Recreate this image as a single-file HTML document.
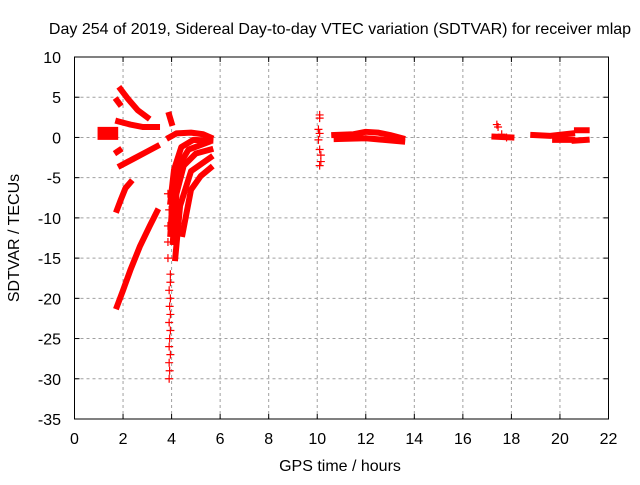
<!DOCTYPE html>
<html><head><meta charset="utf-8"><style>
body{margin:0;background:#fff}
svg text{font-family:"Liberation Sans",sans-serif;font-size:16px;fill:#000}
</style></head><body>
<svg id="c" width="640" height="480" xmlns="http://www.w3.org/2000/svg">
<text x="340" y="34" text-anchor="middle" font-size="16">Day 254 of 2019, Sidereal Day-to-day VTEC variation (SDTVAR) for receiver mlap</text>
<text x="340" y="471" text-anchor="middle">GPS time / hours</text>
<text x="0" y="0" transform="translate(19,238) rotate(-90)" text-anchor="middle">SDTVAR / TECUs</text>
<g id="grid"></g>
<g id="ticks"></g>
<g id="marks"></g>
<rect x="74.5" y="57" width="534" height="362" fill="none" stroke="#000" stroke-width="1"/>
</svg>
<script>
const xTicks=[0,2,4,6,8,10,12,14,16,18,20,22];
const yTicks=[10,5,0,-5,-10,-15,-20,-25,-30,-35];
const segA=[[1.9,6.0],[2.2,4.8],[2.6,3.4],[3.0,2.5]];
const segA2=[[1.75,4.6],[1.85,4.2]];
const segB=[[1.8,2.0],[2.3,1.6],[2.8,1.3],[3.4,1.3]];
const segBlob=[[0.95,0.5],[1.8,0.5]];
const segC=[[1.9,-3.5],[2.4,-2.7],[2.9,-1.9],[3.4,-1.1]];
const segC2=[[1.75,-1.8],[1.85,-1.6]];
const segD=[[1.75,-9.0],[1.9,-7.8],[2.1,-6.3],[2.3,-5.6]];
const segE=[[1.75,-21],[2.0,-19],[2.3,-16.5],[2.7,-13.5],[3.1,-11],[3.4,-9.2]];
const segS=[[3.9,2.8],[4.0,1.8]];
const segF=[[3.9,0],[4.2,0.5],[4.8,0.6],[5.3,0.4],[5.6,0]];
const segG=[[3.95,-12],[4.05,-7],[4.3,-3.5],[4.7,-1.5],[5.5,-0.6]];
const segG2=[[3.95,-8],[4.1,-4],[4.4,-1.2],[4.9,-0.3],[5.6,-0.4]];
const segH=[[4.15,-15],[4.35,-8.5],[4.8,-4.2],[5.6,-2.5]];
const segH2=[[4.05,-13],[4.2,-7],[4.5,-3.5],[5.0,-2.0],[5.6,-1.5]];
const segI=[[4.45,-12],[4.8,-6.5],[5.2,-4.8],[5.6,-3.8]];
const segJ=[[10.7,0.3],[11.5,0.4],[12,0.7],[12.5,0.6],[13,0.3],[13.5,-0.1]];
const segK=[[10.8,-0.2],[12,-0.1],[13.5,-0.5]];
const segL=[[17.3,0.1],[18,0]];
const segM=[[18.9,0.3],[19.6,0.2],[20.5,0.5]];
const segN=[[19.8,-0.3],[20.5,-0.3]];
const segO=[[20.7,0.9],[21.1,0.9]];
const segP=[[20.6,-0.4],[21.1,-0.3]];
const segments=[segA,segA2,segB,segC,segC2,segD,segE,segS,segF,segG,segG2,segH,segH2,segI,segJ,segK,segL,segM,segN,segO,segP];
const blobs=[segBlob];
const scatterPts=[[3.95,-17],[3.95,-18],[3.9,-19],[3.95,-20],[3.92,-21],[3.95,-22],[3.9,-23],[3.95,-24],[3.92,-25],[3.9,-26],[3.95,-27],[3.9,-28],[3.92,-29],[3.9,-30],[3.85,-15],[3.85,-13],[3.85,-11],[3.9,-9],[3.85,-7],
[10.1,2.8],[10.1,2.4],[10.05,1.0],[10.1,0.5],[10.05,-0.3],[10.1,-1.5],[10.15,-2.2],[10.15,-3.0],[10.1,-3.5],[17.4,1.6],[17.45,1.3],[17.6,0.4],[17.8,0.0]];
const xS=h=>74.5+h*(534/22);
const yS=v=>57+(10-v)*(362/45);
const NS='http://www.w3.org/2000/svg';
const g=document.getElementById('grid'),t=document.getElementById('ticks'),m=document.getElementById('marks');
function mk(tag,at,p){const e=document.createElementNS(NS,tag);for(const k in at)e.setAttribute(k,at[k]);p.appendChild(e);return e;}
xTicks.forEach(v=>{const x=xS(v);
 if(v>0&&v<22){const l=mk('line',{x1:x,x2:x,y1:57,y2:419,stroke:'#a0a0a0','stroke-dasharray':'3,3'},g);}
 mk('line',{x1:x,x2:x,y1:419,y2:414,stroke:'#000'},t);mk('line',{x1:x,x2:x,y1:57,y2:62,stroke:'#000'},t);
 const tx=mk('text',{x:x,y:444,'text-anchor':'middle'},t);tx.textContent=v;});
yTicks.forEach(v=>{const y=yS(v);
 if(v<10&&v>-35){const l=mk('line',{x1:74.5,x2:608.5,y1:y,y2:y,stroke:'#a0a0a0','stroke-dasharray':'3,3'},g);}
 mk('line',{x1:74.5,x2:79.5,y1:y,y2:y,stroke:'#000'},t);mk('line',{x1:608.5,x2:603.5,y1:y,y2:y,stroke:'#000'},t);
 const tx=mk('text',{x:61,y:y+6,'text-anchor':'end'},t);tx.textContent=v;});
segments.forEach(s=>{const p=mk('polyline',{points:s.map(d=>xS(d[0])+','+yS(d[1])).join(' '),fill:'none',stroke:'#f00','stroke-width':6,'stroke-linecap':'square','stroke-linejoin':'round'},m);
 });
blobs.forEach(s=>{const p=mk('polyline',{points:s.map(d=>xS(d[0])+','+yS(d[1])).join(' '),fill:'none',stroke:'#f00','stroke-width':13,'stroke-linecap':'butt'},m);
 });
scatterPts.forEach(d=>{const x=xS(d[0]),y=yS(d[1]);const p=mk('path',{d:`M${x-4},${y}H${x+4}M${x},${y-4}V${y+4}`,stroke:'#f00','stroke-width':1.2},m);
 });
</script>
</body></html>
